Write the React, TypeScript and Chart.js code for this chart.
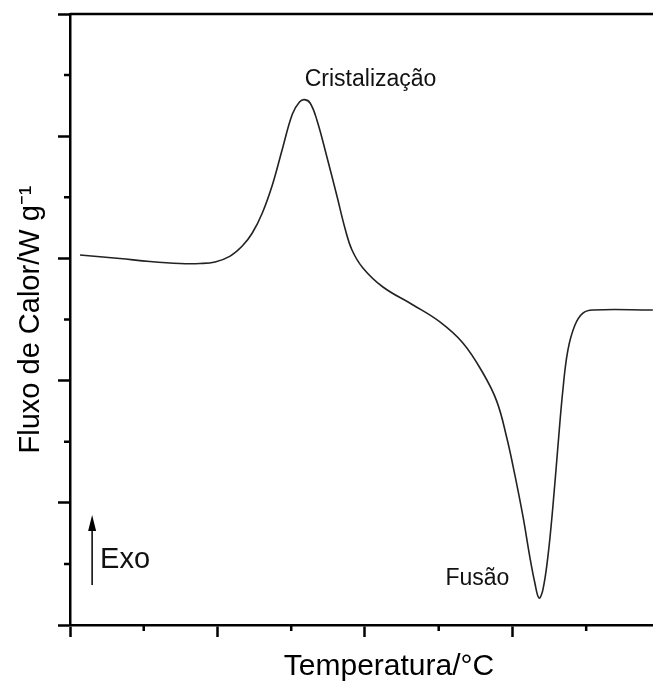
import React, { useEffect, useRef } from 'react';
import { Chart, registerables } from 'chart.js';

Chart.register(...registerables);

// DSC curve: temperature (°C) vs heat flow (W g-1, arbitrary offset)
const temperatures = [
  53.4, 66.9, 77.1, 87.3, 94.1, 99.2, 104.3, 108.4, 111.8, 115.2, 118.6,
  122.0, 125.4, 127.8, 129.5, 131.4, 133.7, 137.1, 140.5, 143.2, 145.6, 149.3,
  156.1, 166.3, 175.4, 183.2, 190.0, 194.7, 198.1, 200.8, 203.6, 205.9, 207.6,
  209.0, 210.3, 212.0, 213.7, 215.4, 217.1, 218.8, 221.2, 223.9, 227.3, 247.6,
];
const heatFlow = [
  3.028, 2.999, 2.974, 2.958, 2.958, 2.971, 3.019, 3.101, 3.208, 3.372, 3.601,
  3.896, 4.182, 4.280, 4.299, 4.272, 4.133, 3.830, 3.511, 3.249, 3.069, 2.922,
  2.766, 2.619, 2.480, 2.308, 2.062, 1.830, 1.530, 1.230, 0.884, 0.556, 0.344,
  0.221, 0.286, 0.556, 0.966, 1.457, 1.923, 2.250, 2.455, 2.553, 2.578, 2.578,
];

const xMajorStep = 50;
const xMinorTicks = [75, 125, 175, 225];
const yMajorStep = 1;
const yMinorTicks = [0.5, 1.5, 2.5, 3.5, 4.5];

const xTitle = 'Temperatura/°C';
const yTitle = 'Fluxo de Calor/W g⁻¹';
const peakLabel = 'Cristalização';
const meltLabel = 'Fusão';
const exoLabel = 'Exo';

const FONT = "'Liberation Sans', Arial, sans-serif";

const decorPlugin = {
  id: 'decor',
  afterDraw(chart: any) {
    const { ctx, chartArea, scales } = chart;
    const xs = scales.x;
    const ys = scales.y;
    ctx.save();
    ctx.strokeStyle = '#000';
    ctx.lineWidth = 2.5;
    // top frame line
    ctx.beginPath();
    ctx.moveTo(chartArea.left, chartArea.top);
    ctx.lineTo(chartArea.right, chartArea.top);
    ctx.stroke();
    // minor ticks
    ctx.beginPath();
    for (const v of xMinorTicks) {
      const px = xs.getPixelForValue(v);
      ctx.moveTo(px, chartArea.bottom);
      ctx.lineTo(px, chartArea.bottom + 6);
    }
    for (const v of yMinorTicks) {
      const py = ys.getPixelForValue(v);
      ctx.moveTo(chartArea.left, py);
      ctx.lineTo(chartArea.left - 6, py);
    }
    ctx.stroke();

    // annotations
    ctx.fillStyle = '#111';
    ctx.textBaseline = 'alphabetic';
    ctx.font = `23px ${FONT}`;
    ctx.textAlign = 'center';
    ctx.fillText(peakLabel, xs.getPixelForValue(151.9), ys.getPixelForValue(4.41));
    ctx.fillText(meltLabel, xs.getPixelForValue(188.1), ys.getPixelForValue(0.327));
    ctx.textAlign = 'left';
    ctx.font = `29px ${FONT}`;
    ctx.fillText(exoLabel, xs.getPixelForValue(60.2), ys.getPixelForValue(0.467));

    // Exo arrow
    const ax = xs.getPixelForValue(57.5);
    const yBottom = ys.getPixelForValue(0.327);
    const yTip = ys.getPixelForValue(0.9);
    ctx.lineWidth = 1.5;
    ctx.beginPath();
    ctx.moveTo(ax, yBottom);
    ctx.lineTo(ax, yTip + 14);
    ctx.stroke();
    ctx.fillStyle = '#000';
    ctx.beginPath();
    ctx.moveTo(ax, yTip);
    ctx.lineTo(ax - 4, yTip + 16);
    ctx.lineTo(ax + 4, yTip + 16);
    ctx.closePath();
    ctx.fill();
    ctx.restore();
  },
};

export default function App() {
  const ref = useRef<HTMLCanvasElement>(null);
  useEffect(() => {
    document.documentElement.style.overflow = 'hidden';
    const data = temperatures.map((t, i) => ({ x: t, y: heatFlow[i] }));
    const chart = new Chart(ref.current as HTMLCanvasElement, {
      type: 'line',
      data: {
        datasets: [
          {
            data,
            borderColor: '#222',
            borderWidth: 1.6,
            pointRadius: 0,
            fill: false,
            tension: 0.4,
          },
        ],
      },
      options: {
        responsive: false,
        animation: false,
        events: [],
        layout: { padding: { left: 0, top: 6, right: 0, bottom: 0 } },
        plugins: { legend: { display: false }, tooltip: { enabled: false } },
        scales: {
          x: {
            type: 'linear',
            position: 'bottom',
            min: 50,
            max: 266.3,
            border: { display: true, color: '#000', width: 2.5 },
            grid: {
              display: true,
              drawOnChartArea: false,
              drawTicks: true,
              tickLength: 12,
              tickColor: '#000',
              tickWidth: 2.5,
            },
            ticks: { display: false, stepSize: xMajorStep },
            title: {
              display: true,
              text: xTitle,
              color: '#000',
              font: { family: FONT, size: 30, lineHeight: 1 },
              padding: { top: 15, bottom: 0 },
            },
          },
          y: {
            type: 'linear',
            position: 'left',
            min: 0,
            max: 5,
            border: { display: true, color: '#000', width: 2.5 },
            grid: {
              display: true,
              drawOnChartArea: false,
              drawTicks: true,
              tickLength: 12,
              tickColor: '#000',
              tickWidth: 2.5,
            },
            ticks: { display: false, stepSize: yMajorStep },
            title: {
              display: true,
              text: yTitle,
              color: '#000',
              font: { family: FONT, size: 29, lineHeight: 1 },
              padding: { top: 8.5, bottom: 12.5 },
            },
          },
        },
      },
      plugins: [decorPlugin],
    });
    return () => chart.destroy();
  }, []);
  return (
    <div style={{ width: 700, height: 674 }}>
      <canvas ref={ref} width={700} height={674} style={{ display: 'block' }} />
    </div>
  );
}
